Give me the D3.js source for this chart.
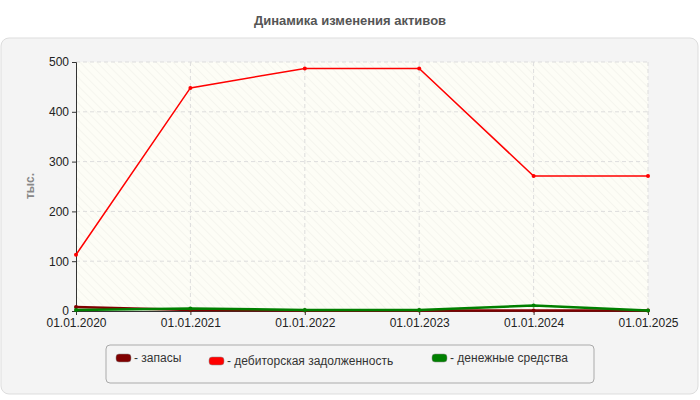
<!DOCTYPE html>
<html><head><meta charset="utf-8">
<script src="https://cdn.jsdelivr.net/npm/d3@7"></script>
<style>body{margin:0;background:#fff;font-family:Arial,"Liberation Sans",sans-serif}</style>
</head><body>
<svg id="c" width="700" height="400"></svg>
<script>
// chart data
const dates = ["01.01.2020", "01.01.2021", "01.01.2022", "01.01.2023", "01.01.2024", "01.01.2025"];
const zapasy = [8, 2, 1, 1, 1, 1];
const debitor = [113, 448, 487, 487, 271, 271];
const dengi = [2, 5, 2, 2, 11, 1];
const yTicks = [0, 100, 200, 300, 400, 500];

const series = [
  {name: "запасы", values: zapasy, color: "#800000"},
  {name: "дебиторская задолженность", values: debitor, color: "#ff0000"},
  {name: "денежные средства", values: dengi, color: "#008000"}
];

let svg = d3.select("#c");
let pLeft = 76, pRight = 648, pTop = 62, pBottom = 311;

svg.append("text").attr("x", 350).attr("y", 25).attr("text-anchor", "middle")
  .attr("font-size", 13).attr("font-weight", "bold").attr("fill", "#555").text("Динамика изменения активов");

svg.append("rect").attr("x", 1).attr("y", 38).attr("width", 697).attr("height", 356).attr("rx", 8)
  .attr("fill", "#f4f4f4").attr("stroke", "#ddd");

let defs = svg.append("defs");
let pat = defs.append("pattern").attr("id", "hatch").attr("width", 6).attr("height", 6)
  .attr("patternUnits", "userSpaceOnUse").attr("patternTransform", "rotate(-45)");
pat.append("rect").attr("width", 6).attr("height", 6).attr("fill", "#fdfdf6");
pat.append("line").attr("x1", 0).attr("y1", 0).attr("x2", 0).attr("y2", 6).attr("stroke", "#eeeee6").attr("stroke-width", 1);

svg.append("rect").attr("x", pLeft).attr("y", pTop).attr("width", pRight - pLeft).attr("height", pBottom - pTop).attr("fill", "url(#hatch)");

let x = d3.scalePoint().domain(dates).range([pLeft, pRight]);
let y = d3.scaleLinear().domain([0, 500]).range([pBottom, pTop]);

// grid
svg.append("g").selectAll("line").data(yTicks.slice(1)).join("line")
  .attr("x1", pLeft).attr("x2", pRight).attr("y1", d => y(d)).attr("y2", d => y(d))
  .attr("stroke", "#ddd").attr("stroke-dasharray", "4,3");
svg.append("g").selectAll("line").data(dates.slice(1)).join("line")
  .attr("x1", d => x(d)).attr("x2", d => x(d)).attr("y1", pTop).attr("y2", pBottom)
  .attr("stroke", "#ddd").attr("stroke-dasharray", "4,3");

let ya = svg.append("g").attr("transform", `translate(${pLeft},0)`)
  .call(d3.axisLeft(y).tickValues(yTicks).tickSize(4).tickPadding(3));
let xa = svg.append("g").attr("transform", `translate(0,${pBottom})`)
  .call(d3.axisBottom(x).tickSize(4).tickPadding(3));
[ya, xa].forEach(a => {
  a.selectAll("text").attr("font-size", 12).attr("fill", "#222").attr("font-family", "Arial,'Liberation Sans',sans-serif");
  a.selectAll("line,path").attr("stroke", "#333");
});

svg.append("text").attr("transform", "translate(34,186) rotate(-90)").attr("text-anchor", "middle")
  .attr("font-size", 12).attr("font-weight", "bold").attr("fill", "#888").text("тыс.");

let line = d3.line().x((d, i) => x(dates[i])).y(d => y(d));
series.forEach(s => {
  svg.append("path").attr("d", line(s.values)).attr("fill", "none").attr("stroke", s.color).attr("stroke-width", s.name === "дебиторская задолженность" ? 1.5 : 2.5);
  svg.append("g").selectAll("circle").data(s.values).join("circle")
    .attr("cx", (d, i) => x(dates[i])).attr("cy", d => y(d)).attr("r", 2).attr("fill", s.color);
});

// legend
svg.append("rect").attr("x", 106).attr("y", 345).attr("width", 488).attr("height", 38).attr("rx", 4)
  .attr("fill", "#f4f4f4").attr("stroke", "#aaa");
const legendPos = [[116, 354], [209, 357], [432, 354]];
series.forEach((s, i) => {
  let [lx, ly] = legendPos[i];
  svg.append("rect").attr("x", lx).attr("y", ly).attr("width", 15).attr("height", 8).attr("rx", 3)
    .attr("fill", s.color).attr("stroke", "#888").attr("stroke-width", 0.5);
  svg.append("text").attr("x", lx + 18).attr("y", ly + 8).attr("font-size", 12).attr("fill", "#333").text("- " + s.name);
});
</script>
</body></html>
